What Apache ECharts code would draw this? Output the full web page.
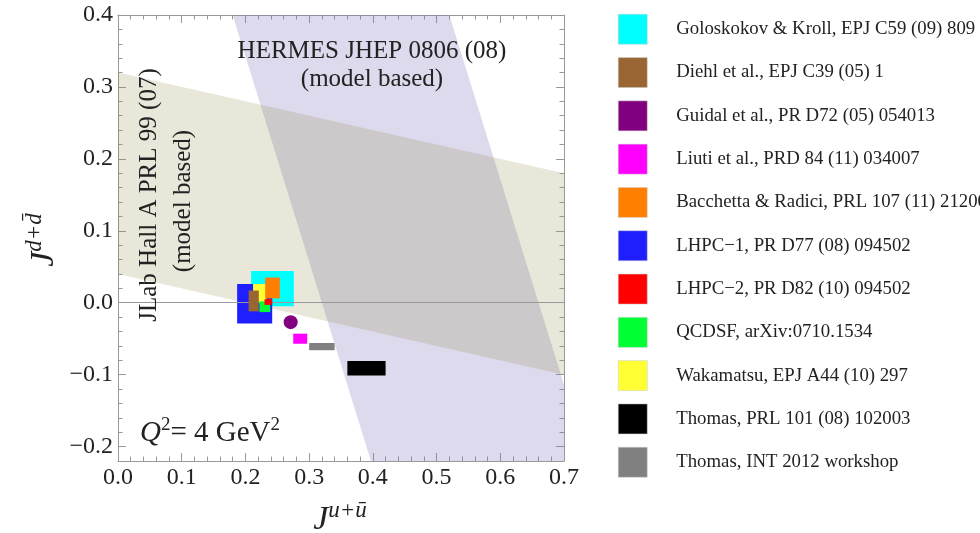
<!DOCTYPE html>
<html>
<head>
<meta charset="utf-8">
<script src="https://cdn.jsdelivr.net/npm/echarts@6/dist/echarts.min.js"></script>
<style>
  html, body { margin: 0; padding: 0; background: #fff; }
  #chart { width: 980px; height: 533px; }
</style>
</head>
<body>
<div id="chart"></div>
<script>
// studies, in legend order
const studies = [
  "Goloskokov & Kroll, EPJ C59 (09) 809",
  "Diehl et al., EPJ C39 (05) 1",
  "Guidal et al., PR D72 (05) 054013",
  "Liuti et al., PRD 84 (11) 034007",
  "Bacchetta & Radici, PRL 107 (11) 212001",
  "LHPC\u22121, PR D77 (08) 094502",
  "LHPC\u22122, PR D82 (10) 094502",
  "QCDSF, arXiv:0710.1534",
  "Wakamatsu, EPJ A44 (10) 297",
  "Thomas, PRL 101 (08) 102003",
  "Thomas, INT 2012 workshop"
];
// J^{u+ubar} range [lo, hi] for each study
const jURange = [
  [0.209, 0.276], [0.205, 0.221], [0.271, 0.271], [0.275, 0.297],
  [0.231, 0.254], [0.187, 0.242], [0.230, 0.242], [0.222, 0.239],
  [0.212, 0.233], [0.360, 0.420], [0.300, 0.340]
];
// J^{d+dbar} range [lo, hi] for each study
const jDRange = [
  [-0.005, 0.044], [-0.012, 0.017], [-0.027, -0.027], [-0.057, -0.043],
  [0.006, 0.035], [-0.029, 0.026], [-0.003, 0.005], [-0.013, 0.002],
  [0.000, 0.026], [-0.101, -0.081], [-0.066, -0.056]
];
// experimental constraint bands (corners, in J^u, J^d)
const hallABand = [[0, 0.32], [0.7, 0.18], [0.7, -0.1], [0, 0.04]];
const hermesBand = [[0.18, 0.4], [0.52, 0.4], [0.7, -0.114], [0.7, -0.22], [0.397, -0.22]];
const xTicks = { min: 0, max: 0.7, step: 0.1 };
const yTicks = { min: -0.22, max: 0.4 };

const colors = ["#00ffff", "#996633", "#800080", "#ff00ff", "#ff8000", "#1e1eff",
                "#ff0000", "#00ff33", "#ffff33", "#000000", "#808080"];
// drawing order (higher on top)
const zOrder = [3, 8, 10, 11, 7, 4, 10, 9, 5, 12, 12];

const FONT = "Liberation Serif";
const AX = "#999";

const chart = echarts.init(document.getElementById("chart"));

const fmt = (v) => {
  const r = Math.round(v * 10);
  if (Math.abs(v * 10 - r) > 1e-6) return "";
  return (r / 10).toFixed(1).replace("-", "\u2212");
};

const bandSeries = (pts, fill) => ({
  type: "custom",
  silent: true,
  z: 1,
  data: [0],
  renderItem: (params, api) => ({
    type: "polygon",
    shape: { points: pts.map((p) => api.coord(p)) },
    style: { fill: fill }
  })
});

const studySeries = studies.map((name, i) => ({
  name: name,
  type: "custom",
  z: zOrder[i],
  itemStyle: { color: colors[i] },
  encode: { x: [0, 1], y: [2, 3] },
  data: [[jURange[i][0], jURange[i][1], jDRange[i][0], jDRange[i][1]]],
  renderItem: (params, api) => {
    const x0 = api.value(0), x1 = api.value(1), y0 = api.value(2), y1 = api.value(3);
    if (x0 === x1 && y0 === y1) {
      const c = api.coord([x0, y0]);
      return { type: "circle", shape: { cx: c[0], cy: c[1], r: 7 }, style: api.style() };
    }
    const a = api.coord([x0, y1]);
    const b = api.coord([x1, y0]);
    return {
      type: "rect",
      shape: { x: a[0], y: a[1], width: b[0] - a[0], height: b[1] - a[1] },
      style: api.style()
    };
  }
}));

const baseX = (pos, labels) => ({
  type: "value",
  position: pos,
  min: xTicks.min,
  max: xTicks.max,
  interval: xTicks.step,
  axisLine: { show: true, onZero: false, lineStyle: { color: AX, width: 1 } },
  axisTick: { show: true, inside: true, length: 8, lineStyle: { color: AX } },
  minorTick: { show: true, splitNumber: 5, length: 4.5, lineStyle: { color: AX } },
  splitLine: { show: false },
  axisLabel: labels
    ? { show: true, formatter: fmt, color: "#222", fontFamily: FONT, fontSize: 24, margin: 5 }
    : { show: false }
});

// minor ticks every 0.02 (labels only on the 0.1 ticks)
const minorY = (pos, labels) => ({
  type: "value",
  position: pos,
  min: yTicks.min,
  max: yTicks.max,
  interval: 0.02,
  axisLine: { show: true, onZero: false, lineStyle: { color: AX, width: 1 } },
  axisTick: { show: true, inside: true, length: 4.5, lineStyle: { color: AX } },
  splitLine: { show: false },
  axisLabel: labels
    ? { show: true, formatter: fmt, color: "#222", fontFamily: FONT, fontSize: 24, margin: 5 }
    : { show: false }
});

// major ticks every 0.1
const majorY = (pos) => ({
  type: "value",
  position: pos,
  min: yTicks.min,
  max: yTicks.max,
  splitNumber: 6,
  axisLine: { show: false, onZero: false },
  axisTick: { show: true, inside: true, length: 8, lineStyle: { color: AX } },
  splitLine: { show: false },
  axisLabel: { show: false }
});

chart.setOption({
  animation: false,
  backgroundColor: "#fff",
  grid: { left: 118, right: 416, top: 15, bottom: 72, containLabel: false },
  xAxis: [baseX("bottom", true), baseX("top", false)],
  yAxis: [minorY("left", true), majorY("left"), minorY("right", false), majorY("right")],
  legend: {
    orient: "vertical",
    left: 618,
    top: 14,
    padding: 0,
    itemWidth: 29,
    itemHeight: 30,
    itemGap: 12.8,
    icon: "rect",
    selectedMode: false,
    data: studies,
    itemStyle: { borderColor: "#ccc", borderWidth: 0.5 },
    textStyle: { fontFamily: FONT, fontSize: 18.8, color: "#222", padding: [0, 0, 0, 24] }
  },
  series: [
    bandSeries(hermesBand, "rgba(115,107,179,0.25)"),
    bandSeries(hallABand, "rgba(145,135,70,0.2)"),
    {
      type: "line",
      data: [],
      z: 2,
      markLine: {
        silent: true,
        symbol: "none",
        label: { show: false },
        lineStyle: { color: "#999", width: 1, type: "solid" },
        data: [{ yAxis: 0 }]
      }
    },
    ...studySeries
  ],
  graphic: [
    {
      type: "text", x: 372, y: 51, z: 20,
      style: { text: "HERMES JHEP 0806 (08)", fontFamily: FONT, fontSize: 25, fill: "#222",
               align: "center", verticalAlign: "middle" }
    },
    {
      type: "text", x: 372, y: 79, z: 20,
      style: { text: "(model based)", fontFamily: FONT, fontSize: 25, fill: "#222",
               align: "center", verticalAlign: "middle" }
    },
    {
      type: "text", x: 149, y: 195, rotation: Math.PI / 2, z: 20,
      style: { text: "JLab Hall A PRL 99 (07)", fontFamily: FONT, fontSize: 25, fill: "#222",
               align: "center", verticalAlign: "middle" }
    },
    {
      type: "text", x: 183, y: 201, rotation: Math.PI / 2, z: 20,
      style: { text: "(model based)", fontFamily: FONT, fontSize: 25, fill: "#222",
               align: "center", verticalAlign: "middle" }
    },
    {
      type: "text", x: 140, y: 432, z: 20,
      style: {
        text: "{q|Q}{s|2}{n|= 4 GeV}{s|2}",
        fontFamily: FONT, fill: "#222", align: "left", verticalAlign: "middle",
        rich: {
          q: { fontFamily: FONT, fontStyle: "italic", fontSize: 29, lineHeight: 32, verticalAlign: "bottom" },
          n: { fontFamily: FONT, fontSize: 29, lineHeight: 32, verticalAlign: "bottom" },
          s: { fontFamily: FONT, fontSize: 19, lineHeight: 32, verticalAlign: "top" }
        }
      }
    },
    {
      type: "text", x: 340, y: 518, z: 20,
      style: {
        text: "{j|J}{s|u+\u016b}",
        fill: "#222", align: "center", verticalAlign: "middle",
        rich: {
          j: { fontFamily: FONT, fontStyle: "italic", fontSize: 34, lineHeight: 38, verticalAlign: "bottom" },
          s: { fontFamily: FONT, fontStyle: "italic", fontSize: 23, lineHeight: 38, verticalAlign: "top" }
        }
      }
    },
    {
      type: "text", x: 42, y: 240, rotation: Math.PI / 2, z: 20,
      style: {
        text: "{j|J}{s|d+d\u0304}",
        fill: "#222", align: "center", verticalAlign: "middle",
        rich: {
          j: { fontFamily: FONT, fontStyle: "italic", fontSize: 34, lineHeight: 38, verticalAlign: "bottom" },
          s: { fontFamily: FONT, fontStyle: "italic", fontSize: 23, lineHeight: 38, verticalAlign: "top" }
        }
      }
    }
  ]
});

window.addEventListener("resize", () => chart.resize());
</script>
</body>
</html>
